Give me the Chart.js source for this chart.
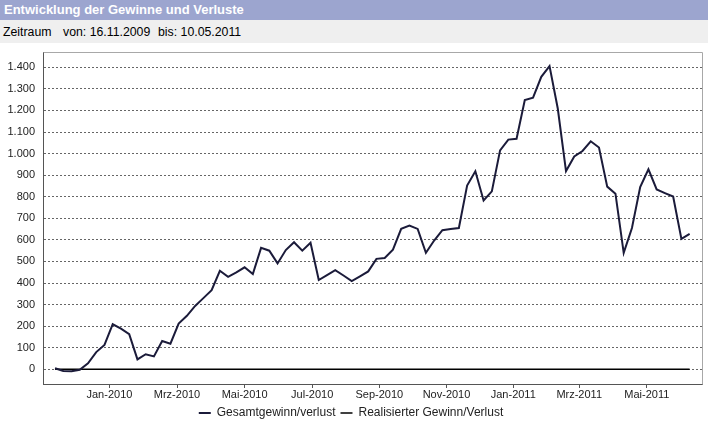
<!DOCTYPE html>
<html>
<head>
<meta charset="utf-8">
<script src="https://cdn.jsdelivr.net/npm/chart.js@4"></script>
<style>
  body { margin: 0; background: #fff; font-family: "Liberation Sans", Arial, sans-serif; }
  #wrap { position: relative; width: 708px; height: 423px; overflow: hidden; }
  #title { position: absolute; left: 0; top: 0; width: 708px; height: 20px; background: #9ca5cf;
           color: #fff; font-weight: bold; font-size: 13px; line-height: 20px; }
  #title span { position: absolute; left: 4px; }
  #range { position: absolute; left: 0; top: 20px; width: 708px; height: 23px; background: #efefef;
           color: #000; font-size: 12.3px; line-height: 24px; }
  #range span { position: absolute; }
  #chartBox { position: absolute; left: 0; top: 42px; }
</style>
</head>
<body>
<div id="wrap">
  <div id="title"><span>Entwicklung der Gewinne und Verluste</span></div>
  <div id="range"><span style="left:3px">Zeitraum</span><span style="left:63px">von: 16.11.2009</span><span style="left:158px">bis: 10.05.2011</span></div>
  <div id="chartBox"><canvas id="myChart" width="708" height="387"></canvas></div>
</div>
<script>
// weekly values
const gesamt = [5, -8, -9, -2, 28, 80, 113, 209, 189, 163,
    46, 70, 60, 131, 119, 212, 248, 294, 330, 367,
    457, 429, 449, 473, 442, 563, 550, 491, 553, 589,
    550, 587, 414, 437, 460, 435, 409, 431, 454, 512,
    516, 555, 651, 666, 651, 540, 597, 645, 650, 655,
    852, 918, 783, 825, 1015, 1065, 1069, 1248, 1259, 1356,
    1406, 1209, 919, 987, 1012, 1057, 1028, 847, 814, 540,
    655, 845, 927, 834, 817, 801, 605, 628];
const realisiert = gesamt.map(() => 0);

// month labels and where they sit along the point index
const xTickPos = [6.6, 14.8, 23.0, 31.2, 39.35, 47.5, 55.6, 63.6, 71.8];
const xTickLabels = ['Jan-2010', 'Mrz-2010', 'Mai-2010', 'Jul-2010', 'Sep-2010',
    'Nov-2010', 'Jan-2011', 'Mrz-2011', 'Mai-2011'];
const yTicks = [0, 100, 200, 300, 400, 500, 600, 700, 800, 900, 1000, 1100, 1200, 1300, 1400];

function fmt(v) {
    return String(v).replace(/\B(?=(\d{3})+(?!\d))/g, '.');
}

const frame = {
    id: 'frame',
    beforeDatasetsDraw(chart) {
        const a = chart.chartArea, c = chart.ctx;
        c.save();
        c.strokeStyle = '#a8a8a8';
        c.lineWidth = 1;
        c.beginPath();
        c.moveTo(Math.round(a.left) + 0.5, Math.round(a.top) + 0.5);
        c.lineTo(Math.round(a.right) + 0.5, Math.round(a.top) + 0.5);
        c.lineTo(Math.round(a.right) + 0.5, Math.round(a.bottom) + 0.5);
        c.stroke();
        c.restore();
    }
};

var ctx = document.getElementById('myChart').getContext('2d');
var myChart = new Chart(ctx, {
    type: 'line',
    data: {
        datasets: [{
            label: 'Gesamtgewinn/verlust',
            data: gesamt.map((v, i) => ({ x: i, y: v })),
            borderColor: '#1b1b3a',
            backgroundColor: '#1b1b3a',
            borderWidth: 2,
            pointRadius: 0,
            tension: 0,
            order: 1
        }, {
            label: 'Realisierter Gewinn/Verlust',
            data: realisiert.map((v, i) => ({ x: i, y: v })),
            borderColor: '#000000',
            backgroundColor: '#000000',
            borderWidth: 1.5,
            pointRadius: 0,
            tension: 0,
            order: 2
        }]
    },
    options: {
        responsive: false,
        animation: false,
        layout: { padding: { left: 0, right: 6, top: 10, bottom: 0 } },
        plugins: {
            tooltip: { enabled: false },
            legend: {
                position: 'bottom',
                labels: {
                    usePointStyle: true,
                    pointStyle: 'line',
                    pointStyleWidth: 12,
                    padding: 5,
                    color: '#222',
                    font: { family: '"Liberation Sans", Arial, sans-serif', size: 12 }
                }
            }
        },
        scales: {
            x: {
                type: 'linear',
                min: -1.46,
                max: 78.5,
                afterBuildTicks: (s) => { s.ticks = xTickPos.map(v => ({ value: v })); },
                afterFit: (s) => { s.height = 18; s.paddingLeft = 0; s.paddingRight = 0; },
                grid: { display: true, drawOnChartArea: false, drawTicks: true, tickLength: 4, color: '#555' },
                border: { color: '#555', width: 1 },
                ticks: {
                    autoSkip: false,
                    maxRotation: 0,
                    padding: 0,
                    color: '#222',
                    font: { family: '"Liberation Sans", Arial, sans-serif', size: 11 },
                    callback: (v, i) => xTickLabels[i]
                }
            },
            y: {
                min: -68,
                max: 1471,
                afterBuildTicks: (s) => { s.ticks = yTicks.map(v => ({ value: v })); },
                afterFit: (s) => { s.width = 43; s.paddingTop = 0; s.paddingBottom = 0; },
                grid: { color: '#666', lineWidth: 1, drawTicks: false },
                border: { color: '#555', width: 1, dash: [2, 2] },
                ticks: {
                    padding: 8,
                    color: '#222',
                    font: { family: '"Liberation Sans", Arial, sans-serif', size: 11 },
                    callback: (v) => fmt(v)
                }
            }
        }
    },
    plugins: [frame]
});
</script>
</body>
</html>
